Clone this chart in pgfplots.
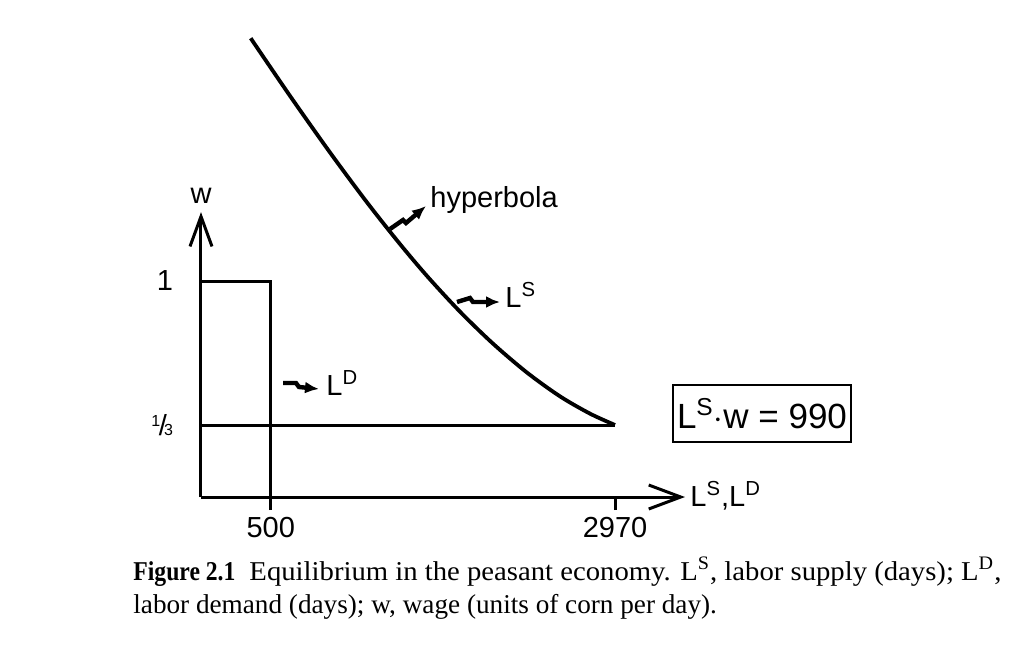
\documentclass[border=0pt]{standalone}
\usepackage{fontspec}
\setmainfont{Liberation Sans}
\newfontfamily\capfont{Liberation Serif}
\usepackage{pgfplots}
\pgfplotsset{compat=1.18}
\usetikzlibrary{arrows.meta}

\begin{document}
\begin{tikzpicture}
\begin{scope}[x=0.5pt,y=-0.5pt,shift={(-100.5pt,248.5pt)}]
\path[use as bounding box] (0,0) rectangle (1034,666);
\end{scope}

\begin{axis}[
  at={(0,0)}, anchor=south west,
  scale only axis,
  x=0.0697pt, y=108pt,
  xmin=0, xmax=3472, ymin=0, ymax=1.319,
  axis x line=bottom, axis y line=left,
  clip=false,
  axis line style={line width=1.5pt},
  x axis line style={-{Straight Barb[length=16pt,width=12pt]}},
  y axis line style={-{Straight Barb[length=15pt,width=11pt]}},
  xtick={500,2970}, xticklabels={500,2970},
  ytick={0.3333,1}, yticklabels={{\raisebox{0.3em}{\fontsize{8}{9}\selectfont 1}\kern-0.05em/\kern-0.1em{\fontsize{8}{9}\selectfont 3}},1},
  tick align=outside,
  major tick length=6.5pt,
  xtick style={line width=1.5pt, black},
  ytick style={draw=none},
  ticklabel style={font=\fontsize{14.5}{17}\selectfont},
  yticklabel style={xshift=-4pt},
  /pgf/number format/assume math mode=true,
]
\addplot[line width=1.5pt] coordinates {(0,1) (500,1) (500,0)};
\addplot[line width=1.5pt] coordinates {(0,0.3333) (2970,0.3333)};
\addplot[line width=1.9pt, smooth, tension=0.5] coordinates {
  (356.5,2.124) (638.5,1.857) (925.4,1.595) (1190.8,1.364) (1427.5,1.171)
  (1628.4,1.018) (1858.0,0.858) (2094.7,0.710) (2338.6,0.576) (2575.3,0.466)
  (2790.5,0.386) (2970,0.3333)
};
\end{axis}

\begin{scope}[x=0.5pt,y=-0.5pt,shift={(-100.5pt,248.5pt)}, font=\fontsize{14.5}{17}\selectfont]
\node at (201,196) {w};
\node[anchor=base west, inner sep=0] at (430,207) {hyperbola};
\node[anchor=base west, inner sep=0] at (505,307) {L\textsuperscript{S}};
\node[anchor=base west, inner sep=0] at (326,395) {L\textsuperscript{D}};
\node[anchor=base west, inner sep=0] at (690,506) {L\textsuperscript{S},L\textsuperscript{D}};
\node[draw, line width=1.2pt, minimum width=85pt, minimum height=28.5pt, inner sep=2pt,
      font=\fontsize{17.5}{20}\selectfont] at (762,413.5) {L\textsuperscript{S}$\cdot$w = 990};
\draw[line width=2.2pt, -{Latex[length=7pt,width=6pt]}] (390,229) -- (403,220) -- (406,223) -- (426,206);
\draw[line width=2.2pt, -{Latex[length=7pt,width=6pt]}] (457,302) -- (470,298) -- (473,302) -- (500,302);
\draw[line width=2.2pt, -{Latex[length=7pt,width=6pt]}] (283,383) -- (296,383) -- (299,387) -- (319,389);
\node[anchor=base west, inner sep=0, font=\capfont\fontsize{13.6}{16}\selectfont] at (133,580)
  {\scalebox{0.87}[1]{\textbf{Figure 2.1}}\hspace{7pt}\scalebox{1.055}[1]{Equilibrium in the peasant economy. L\textsuperscript{S}, labor supply (days); L\textsuperscript{D},}};
\node[anchor=base west, inner sep=0, font=\capfont\fontsize{13.6}{16}\selectfont] at (133,613)
  {labor demand (days); w, wage (units of corn per day).};
\end{scope}
\end{tikzpicture}
\end{document}
